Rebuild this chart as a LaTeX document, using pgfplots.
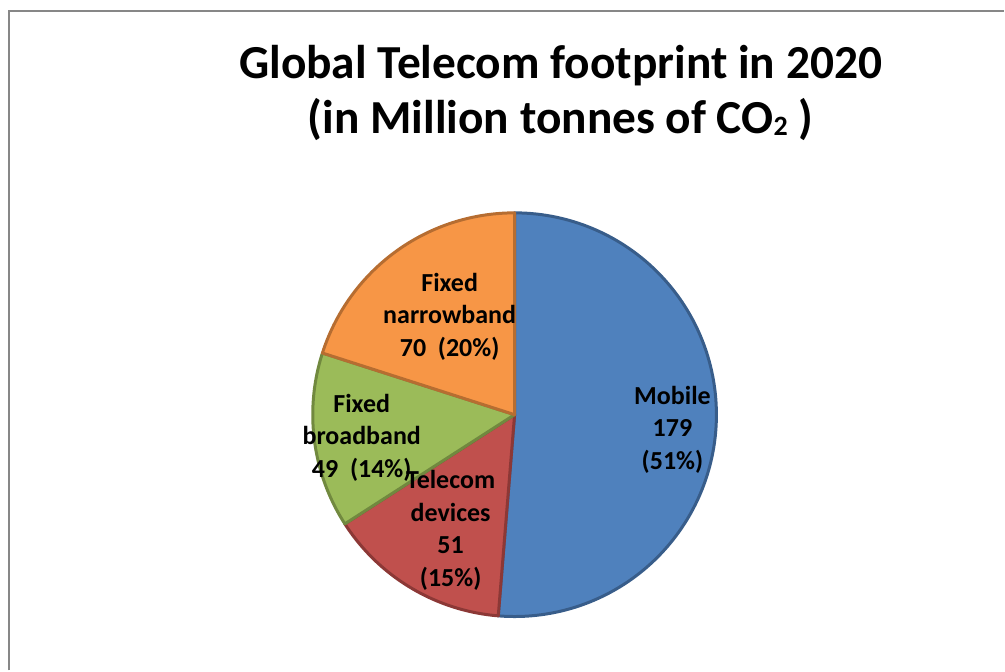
\documentclass[border=0pt]{standalone}
\usepackage{pgfplots}
\pgfplotsset{compat=1.18}
\usepackage{fontspec}
\setmainfont{Carlito}
\definecolor{mobF}{HTML}{4F81BD}\definecolor{mobD}{HTML}{385D8A}
\definecolor{telF}{HTML}{C0504D}\definecolor{telD}{HTML}{8C3836}
\definecolor{broF}{HTML}{9BBB59}\definecolor{broD}{HTML}{71893F}
\definecolor{narF}{HTML}{F79646}\definecolor{narD}{HTML}{B66D31}
% data (million tonnes CO2)
\def\vMob{179}\def\vTel{51}\def\vBro{49}\def\vNar{70}
\pgfmathsetmacro{\tot}{\vMob+\vTel+\vBro+\vNar}
\pgfmathsetmacro{\aA}{90}
\pgfmathsetmacro{\aB}{\aA-360*(\vMob/\tot)}
\pgfmathsetmacro{\aC}{\aB-360*(\vTel/\tot)}
\pgfmathsetmacro{\aD}{\aC-360*(\vBro/\tot)}
\pgfmathsetmacro{\aE}{\aD-360*(\vNar/\tot)}
\def\cx{515}\def\cy{415}\def\R{202}
\begin{document}
\begin{tikzpicture}
\begin{axis}[
  width=502.5pt, height=335.5pt, scale only axis,
  xmin=0, xmax=1005, ymin=0, ymax=671, y dir=reverse,
  hide axis, clip=false,
  every axis plot/.append style={line width=1.5pt, line join=round},
]
\path (axis cs:0,0) rectangle (axis cs:1005,671);
\draw[color=black!47, line width=0.8pt] (axis cs:9,671) -- (axis cs:9,11) -- (axis cs:1005,11);
\addplot[fill=mobF, draw=mobD, domain=\aB:\aA, samples=120, variable=\t]
  ({\cx+\R*cos(\t)},{\cy-\R*sin(\t)}) -- (axis cs:\cx,\cy) -- cycle;
\addplot[fill=telF, draw=telD, domain=\aC:\aB, samples=50, variable=\t]
  ({\cx+\R*cos(\t)},{\cy-\R*sin(\t)}) -- (axis cs:\cx,\cy) -- cycle;
\addplot[fill=broF, draw=broD, domain=\aD:\aC, samples=50, variable=\t]
  ({\cx+\R*cos(\t)},{\cy-\R*sin(\t)}) -- (axis cs:\cx,\cy) -- cycle;
\addplot[fill=narF, draw=narD, domain=\aE:\aD, samples=60, variable=\t]
  ({\cx+\R*cos(\t)},{\cy-\R*sin(\t)}) -- (axis cs:\cx,\cy) -- cycle;
% title (anchor=base is the baseline of the last line)
\node[align=center, font=\fontsize{23.7}{27.5}\selectfont\bfseries, anchor=base, inner sep=0pt]
  at (axis cs:561,134) {Global Telecom footprint in 2020\\(in Million tonnes of CO{\fontsize{14}{14}\selectfont\raisebox{-0.8pt}{2}} )};
% labels
\tikzset{lab/.style={align=center, font=\fontsize{13}{16.4}\selectfont\bfseries, anchor=base, inner sep=0pt}}
\node[lab] at (axis cs:673,470) {Mobile\\179\\(51\%)};
\node[lab] at (axis cs:451,587) {Telecom\\devices\\51\\(15\%)};
\node[lab] at (axis cs:362,478) {Fixed\\broadband\\49~~(14\%)};
\node[lab] at (axis cs:450,357) {Fixed\\narrowband\\70~~(20\%)};
\end{axis}
\end{tikzpicture}
\end{document}
